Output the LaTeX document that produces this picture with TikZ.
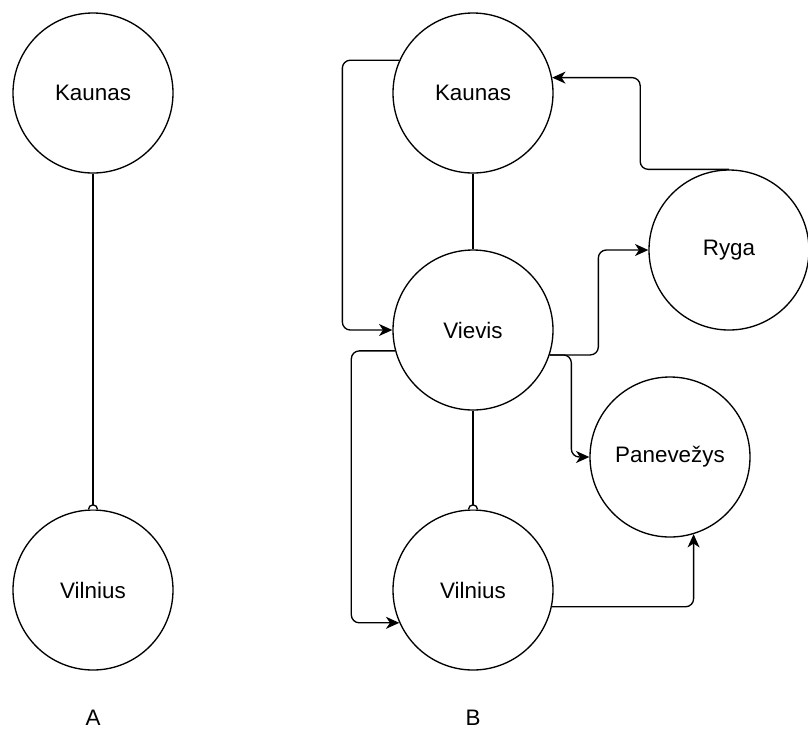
\documentclass[tikz,border=0pt]{standalone}
\usepackage{fontspec}
\setmainfont{Liberation Sans}
\usetikzlibrary{arrows.meta,calc}
\begin{document}
\begin{tikzpicture}[x=0.75pt,y=-0.75pt,
  city/.style={circle,draw,line width=1pt,minimum size=160*0.75pt,inner sep=0pt,font=\fontsize{16.8}{20}\selectfont},
  link/.style={line width=1pt},
  flow/.style={line width=1pt,rounded corners=6pt,-{Stealth[length=10pt,width=9pt,inset=3pt]}},
  caption/.style={font=\fontsize{16.8}{20}\selectfont}]
\useasboundingbox (0,0) rectangle (808,744);
% left graph
\node[city] (kA) at (93,93) {Kaunas};
\node[city] (vA) at (93,590) {Vilnius};
\node[caption] (capA) at (93,718) {A};
% right graph
\node[city] (kB) at (473,93) {Kaunas};
\node[city] (vvB) at (473,330) {Vievis};
\node[city] (viB) at (473,590) {Vilnius};
\node[city] (rB) at (729,250) {Ryga};
\node[city] (pB) at (670,457) {Panevežys};
\node[caption] (capB) at (473,718) {B};
% plain links with half-circle end marks
\draw[link] (kA.south) -- ($(vA.north)+(0,-4)$);
\draw[link,fill=white] ($(vA.north)+(-4.5,0)$) arc[start angle=180,end angle=0,radius=4.5*0.75pt];
\draw[link] (kB.south) -- (vvB.north);
\draw[link] (vvB.south) -- ($(viB.north)+(0,-4)$);
\draw[link,fill=white] ($(viB.north)+(-4.5,0)$) arc[start angle=180,end angle=0,radius=4.5*0.75pt];
% directed connectors
\draw[flow] (kB.156) -| ($(vvB.west)+(-50,0)$) -- (vvB.west);
\draw[flow] (vvB.195) -| ($(viB.204)+(-48,0)$) -- (viB.204);
\draw[flow] (vvB.342) -| ($(rB.west)+(-50,0)$) -- (rB.west);
\draw[flow] (vvB.342) -| ($(pB.west)+(-18,0)$) -- (pB.west);
\draw[flow] (rB.north) -| ($(kB.11)+(88,0)$) -- (kB.11);
\draw[flow] (viB.348) -| (pB.287);
\end{tikzpicture}
\end{document}
